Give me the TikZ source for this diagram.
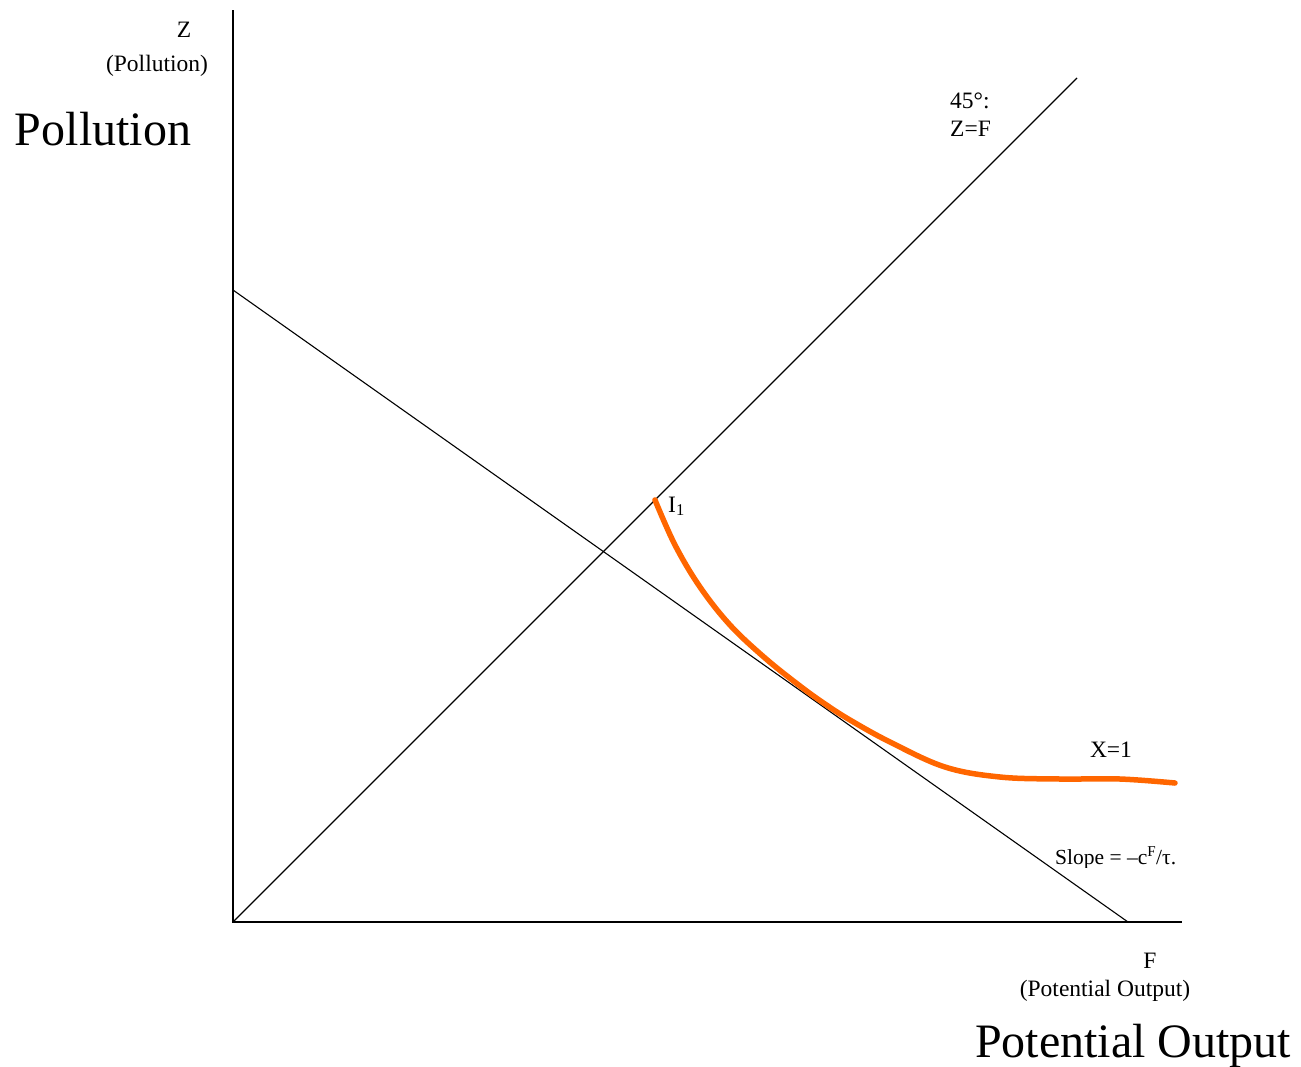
\documentclass[tikz,border=0pt]{standalone}
\usepackage{fontspec}
\setmainfont{Liberation Serif}
\definecolor{curveorange}{HTML}{FF6600}
\begin{document}
\begin{tikzpicture}[x=1pt,y=-1pt,
  small/.style={font=\fontsize{23.5}{26}\selectfont, inner sep=0pt},
  smaller/.style={font=\fontsize{21.5}{24}\selectfont, inner sep=0pt},
  big/.style={font=\fontsize{48}{52}\selectfont, inner sep=0pt},
  axisline/.style={line width=1.2pt, black},
  thinline/.style={line width=1.1pt, black},
  icurve/.style={line width=5.5pt, curveorange, line cap=round}]
\useasboundingbox (0,0) rectangle (1301,1066);
% axes
\coordinate (O) at (233,922);
\coordinate (Ytop) at (233,10);
\coordinate (Xend) at (1182,922);
\draw[axisline] (Ytop) -- (O) -- (Xend);
% 45 degree line
\coordinate (D) at (1077,78);
\draw[thinline] (O) -- (D);
% budget line
\coordinate (B1) at (233,290);
\coordinate (B2) at (1128,922);
\draw[thinline] (B1) -- (B2);
% indifference curve
\draw[icurve] plot[smooth, tension=0.6] coordinates {(655,500) (675,545) (700,587) (730,625) (765,658) (800,686) (825,704) (850,720) (890,742) (945,767) (1000,777) (1060,779) (1120,779) (1175,783)};
% labels
\node[small, anchor=base] (zl) at (184,37) {Z};
\node[small, anchor=base] (zp) at (157,71) {(Pollution)};
\node[big, anchor=base] (pol) at (103,145) {Pollution};
\node[small, anchor=base west] (deg) at (950,108) {45°:};
\node[small, anchor=base west] (zf) at (950,136) {Z=F};
\node[small, anchor=base west] (i1) at (668,512) {I\textsubscript{1}};
\node[small, anchor=base] (x1) at (1111,757) {X=1};
\begin{scope}
\clip (1000,820) rectangle (1200,867);
\node[smaller, anchor=base west] (sl) at (1055,864) {Slope = –c\textsuperscript{F}/τ.};
\end{scope}
\node[small, anchor=base] (fl) at (1150,968) {F};
\node[small, anchor=base] (fp) at (1105,996) {(Potential Output)};
\node[big, anchor=base] (po) at (1133,1057) {Potential Output};
\end{tikzpicture}
\end{document}
